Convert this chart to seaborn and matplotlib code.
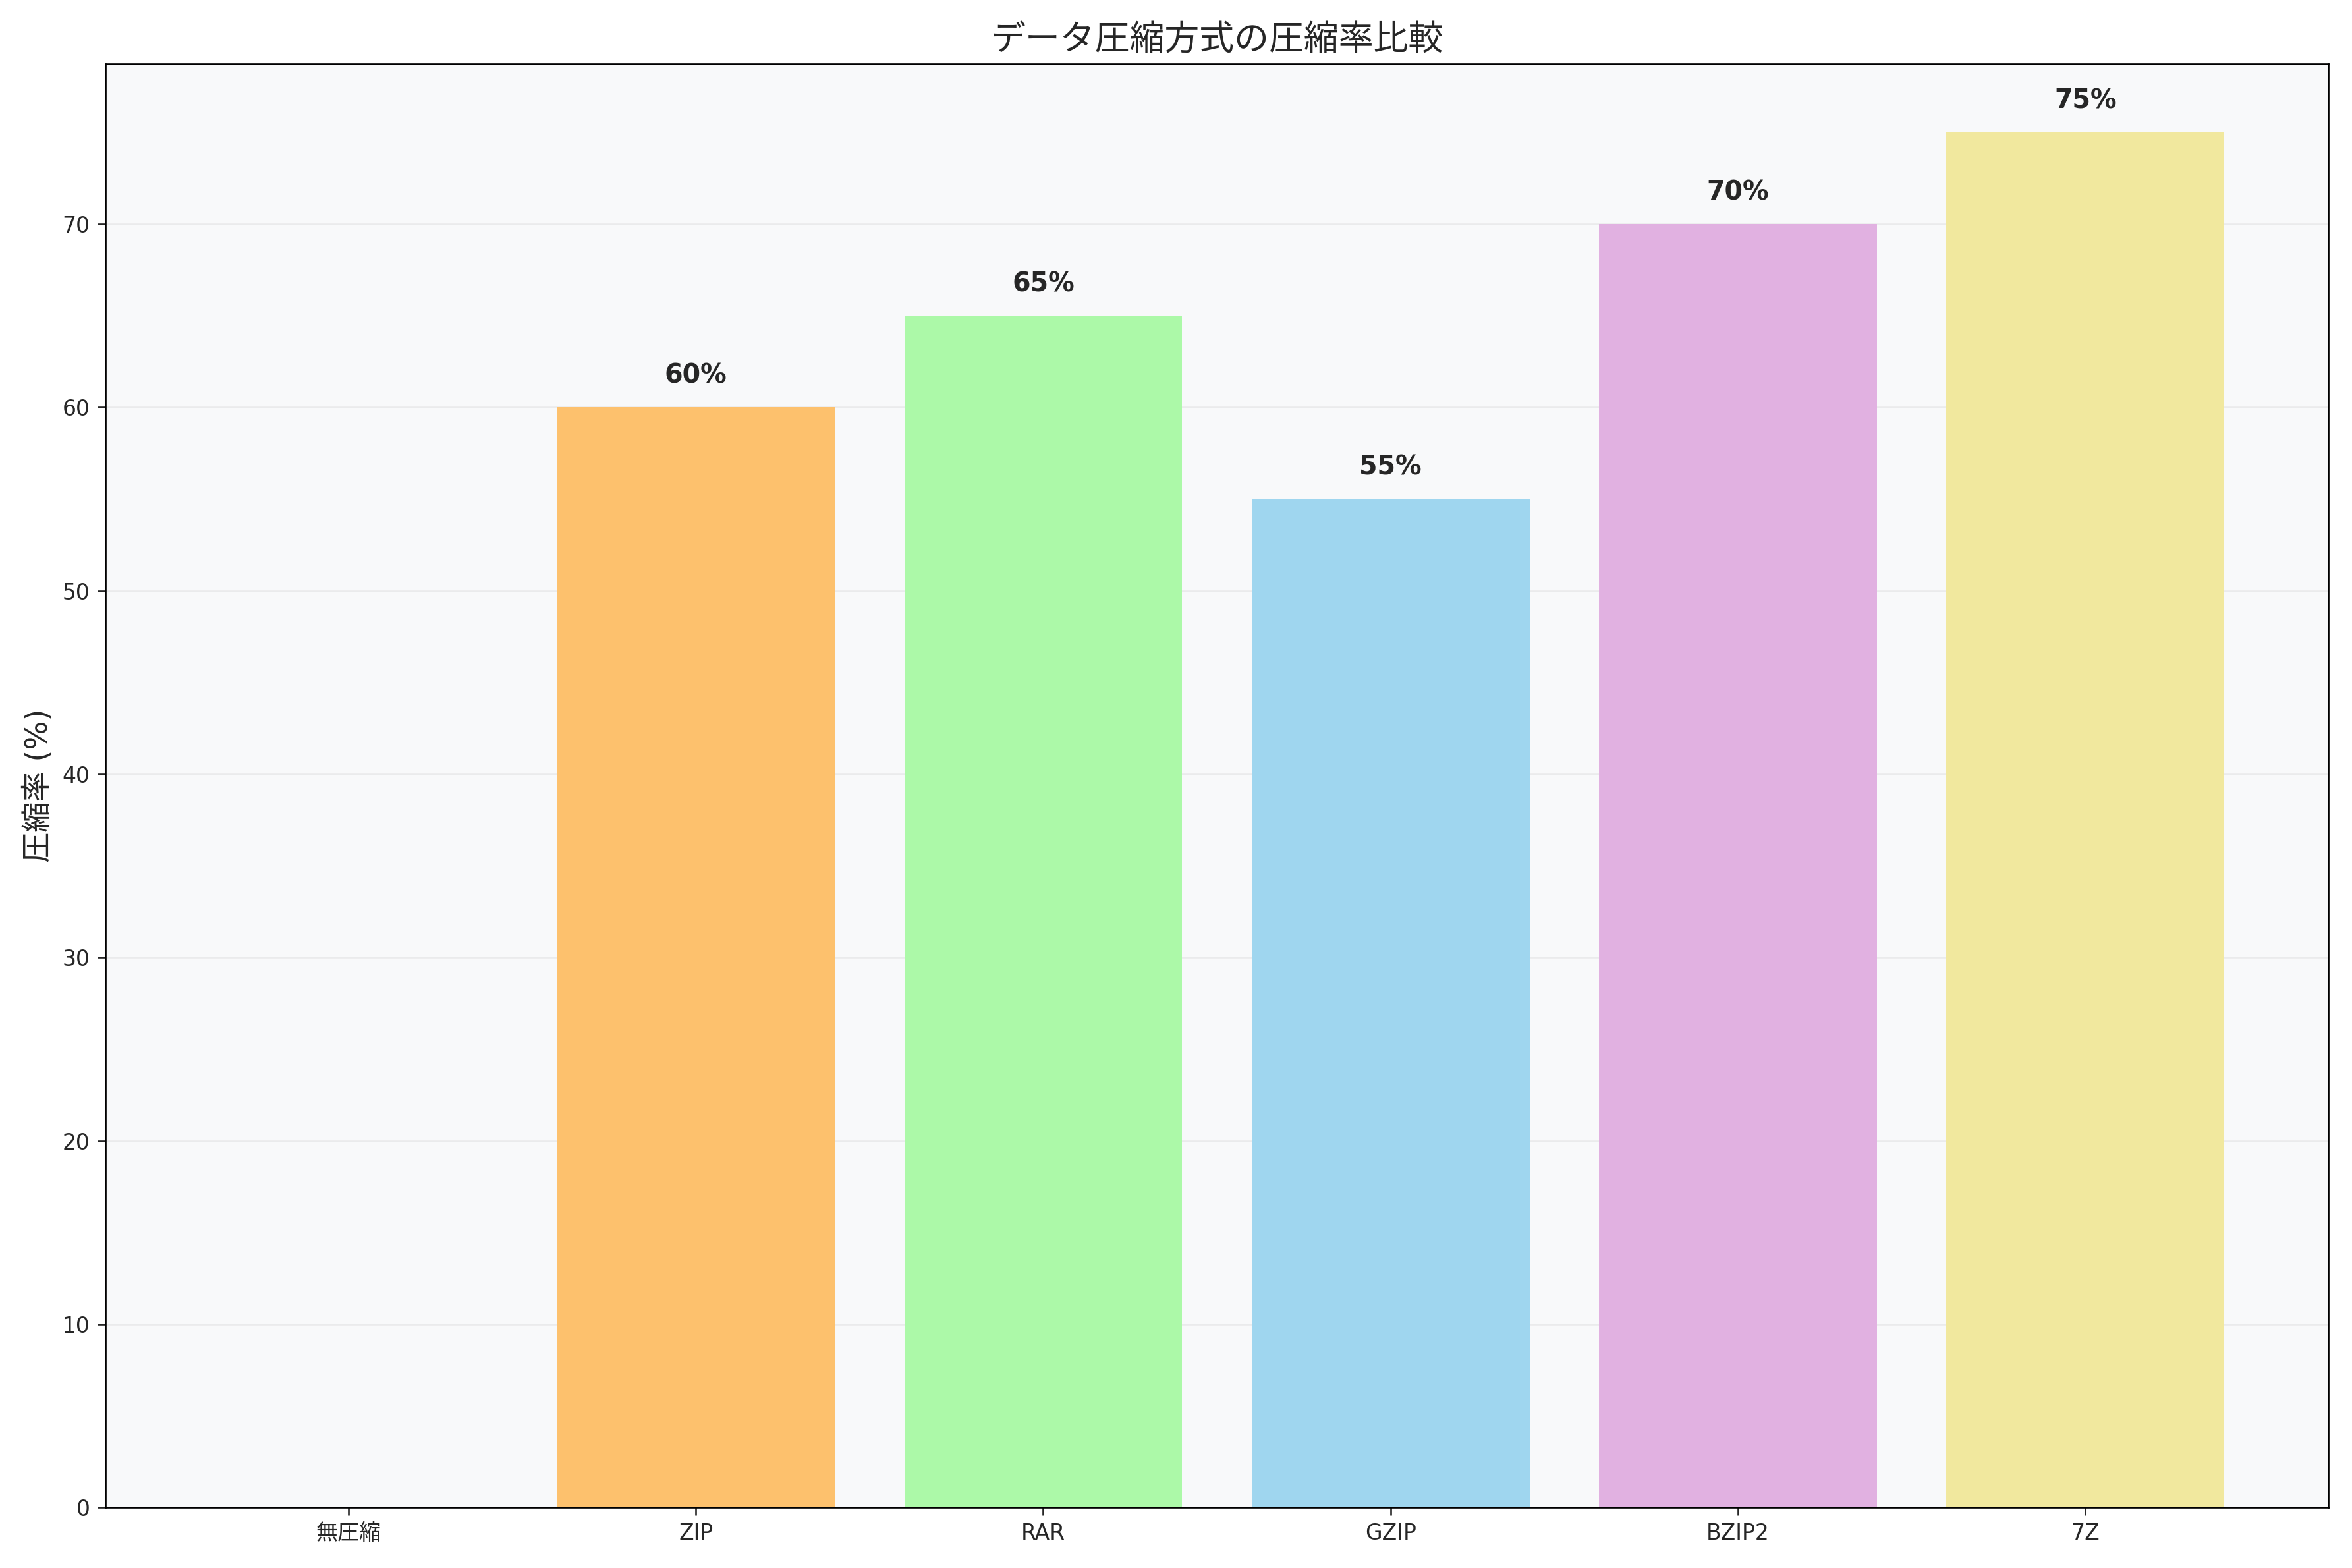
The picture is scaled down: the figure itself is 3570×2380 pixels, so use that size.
import pandas as pd
import seaborn as sns
from matplotlib import pyplot as plt

methods = ['無圧縮', 'ZIP', 'RAR', 'GZIP', 'BZIP2', '7Z']
ratios = [0, 60, 65, 55, 70, 75]
colors = ['#B0B0B0', '#FDC16D', '#ACF9A8', '#9FD6EF', '#E1B1E1', '#F1E89E']

sns.set_style("ticks")
plt.rcParams['font.family'] = ['DejaVu Sans', 'Noto Sans CJK JP']

df = pd.DataFrame({'method': methods, 'ratio': ratios})

fig, ax = plt.subplots(figsize=(15, 10), dpi=238)
ax.set_facecolor('#f8f9fa')
sns.barplot(data=df, x='method', y='ratio', hue='method', palette=colors,
            legend=False, width=0.8, saturation=1, ax=ax, zorder=3,
            edgecolor='none', linewidth=0)

for i, v in enumerate(ratios):
    if v > 0:
        ax.text(i, v + 1, f'{v}%', ha='center', va='bottom',
                fontsize=12, fontweight='bold')

ax.set_xlim(-0.7, 5.7)
ax.set_title('データ圧縮方式の圧縮率比較', fontsize=16)
ax.set_xlabel('')
ax.set_ylabel('圧縮率 (%)', fontsize=14)
ax.tick_params(labelsize=10)
ax.grid(axis='y', alpha=0.3, zorder=0)
for s in ax.spines.values():
    s.set_visible(True)
    s.set_color('black')
plt.tight_layout()
plt.savefig('out.png')
